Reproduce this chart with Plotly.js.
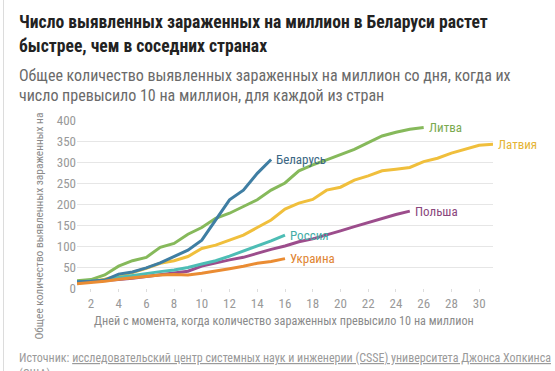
<!DOCTYPE html>
<html>
<head>
<meta charset="utf-8">
<script src="https://cdn.plot.ly/plotly-3.0.1.min.js"></script>
<style>
html,body{margin:0;padding:0;background:#fff;}
#chart{width:555px;height:371px;}
</style>
</head>
<body>
<div id="chart"></div>
<script>
// ---- data ----
const countries = ["Литва", "Латвия", "Польша", "Россия", "Беларусь", "Украина"];
const belarus   = [15,16,19,33,38,48,60,75,90,114,162,210,233,273,306];
const lithuania = [17,20,31,52,65,73,97,106,128,144,166,178,194,210,233,250,279,293,305,317,330,346,362,371,378,382];
const latvia    = [13,15,21,29,37,47,59,65,75,94,102,114,126,144,162,188,202,211,233,240,257,267,279,283,287,301,309,321,331,340,342];
const poland    = [13,15,17,20,23,27,31,35,40,52,60,67,73,83,92,100,110,117,126,136,146,156,166,175,183];
const russia    = [15,16,18,25,30,35,39,43,49,57,65,76,88,100,112,126];
const ukraine   = [10,13,16,21,24,27,31,32,31,35,40,46,52,59,63,70];
const yTicks = [0,50,100,150,200,250,300,350,400];
const xTicks = [2,4,6,8,10,12,14,16,18,20,22,24,26,28,30];

const titleText = ["Число выявленных зараженных на миллион в Беларуси растет", "быстрее, чем в соседних странах"];
const subtitleText = ["Общее количество выявленных зараженных на миллион со дня, когда их", "число превысило 10 на миллион, для каждой из стран"];
const xTitle = "Дней с момента, когда количество зараженных превысило 10 на миллион";
const yTitle = "Общее количество выявленных зараженных на";
const sourceLabel = "Источник: ";
const sourceLink = "исследовательский центр системных наук и инженерии (CSSE) университета Джонса Хопкинса";
const sourceTail = "(США)";

const series = {
  "Литва": {v: lithuania, c: "#86b95b", tc: "#7aaa50"},
  "Латвия": {v: latvia, c: "#f0bf3c", tc: "#e5b436"},
  "Польша": {v: poland, c: "#9c4d8c", tc: "#8a467c"},
  "Россия": {v: russia, c: "#4dbdb5", tc: "#45ada6"},
  "Беларусь": {v: belarus, c: "#3f7ea3", tc: "#3a6784"},
  "Украина": {v: ukraine, c: "#ea8c33", tc: "#e08533"}
};

const FONT = "'Roboto Condensed', 'Liberation Sans Narrow', 'Arial Narrow', Roboto, sans-serif";

const traces = countries.map(name => ({
  type: "scatter",
  mode: "lines",
  name: name,
  x: series[name].v.map((_, i) => i + 1),
  y: series[name].v,
  line: {color: series[name].c, width: 3},
  hoverinfo: "skip"
}));

// layout geometry
const L = 77, R = 62, T = 120, B = 83;
const W = 555, H = 371;
const pw = W - L - R, ph = H - T - B;
const px = p => (p - L) / pw;
const py = p => (H - B - p) / ph;

const annotations = [];
countries.forEach(name => {
  const v = series[name].v;
  annotations.push({
    x: v.length, y: v[v.length - 1], xref: "x", yref: "y",
    text: name, showarrow: false, xanchor: "left", yanchor: "middle",
    xshift: 3, font: {family: FONT, size: 13, color: series[name].tc}
  });
});
annotations.push({
  x: px(17), y: py(22), xref: "paper", yref: "paper", xanchor: "left", yanchor: "middle",
  text: "<b>" + titleText[0] + "</b>", showarrow: false,
  font: {family: FONT, size: 17.6, color: "#222"}
});
annotations.push({
  x: px(17), y: py(46), xref: "paper", yref: "paper", xanchor: "left", yanchor: "middle",
  text: "<b>" + titleText[1] + "</b>", showarrow: false,
  font: {family: FONT, size: 17.6, color: "#222"}
});
annotations.push({
  x: px(17), y: py(75), xref: "paper", yref: "paper", xanchor: "left", yanchor: "middle",
  text: subtitleText[0], showarrow: false,
  font: {family: FONT, size: 16, color: "#6a6a6a"}
});
annotations.push({
  x: px(17), y: py(95), xref: "paper", yref: "paper", xanchor: "left", yanchor: "middle",
  text: subtitleText[1], showarrow: false,
  font: {family: FONT, size: 16, color: "#6a6a6a"}
});
annotations.push({
  x: px(284), y: py(321), xref: "paper", yref: "paper", xanchor: "center", yanchor: "middle",
  text: xTitle, showarrow: false,
  font: {family: FONT, size: 12.2, color: "#8a8a8a"}
});
annotations.push({
  x: px(38), y: py(342), xref: "paper", yref: "paper", xanchor: "center", yanchor: "bottom",
  text: yTitle, textangle: -90, showarrow: false,
  font: {family: FONT, size: 11.4, color: "#8a8a8a"}
});
annotations.push({
  x: px(17), y: py(349), xref: "paper", yref: "paper", xanchor: "left", yanchor: "top", align: "left",
  text: sourceLabel + "<span style='text-decoration:underline'>" + sourceLink + "</span><br>" +
        "<span style='text-decoration:underline'>" + sourceTail + "</span>", showarrow: false,
  font: {family: FONT, size: 12, color: "#9a9a9a"}
});

const layout = {
  width: W, height: H,
  margin: {l: L, r: R, t: T, b: B, pad: 0},
  paper_bgcolor: "#fff", plot_bgcolor: "#fff",
  showlegend: false,
  font: {family: FONT},
  xaxis: {
    range: [1, 31], tickvals: xTicks, ticktext: xTicks.map(String),
    showgrid: false, zeroline: false, showline: false,
    ticks: "outside", ticklen: 3, tickcolor: "#ddd",
    tickfont: {family: FONT, size: 13, color: "#999"}
  },
  yaxis: {
    range: [0, 400], tickvals: yTicks, ticktext: yTicks.map(String),
    showgrid: true, gridcolor: "#e6e6e6", gridwidth: 1,
    zeroline: false, showline: false, ticks: "",
    tickfont: {family: FONT, size: 13, color: "#999"}
  },
  shapes: [{
    type: "line", xref: "paper", yref: "paper",
    x0: px(3.5), x1: px(3.5), y0: py(0), y1: py(371),
    line: {color: "#dcdcdc", width: 1}
  }],
  annotations: annotations
};

Plotly.newPlot("chart", traces, layout, {displayModeBar: false, staticPlot: true});
</script>
</body>
</html>
